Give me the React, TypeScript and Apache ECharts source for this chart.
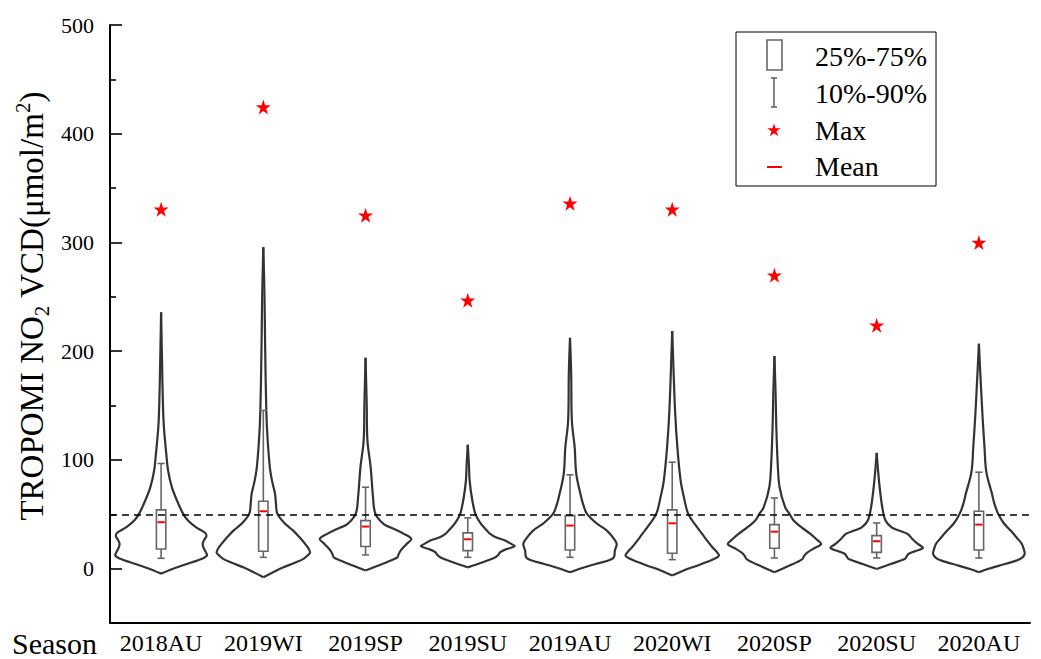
import React, { useEffect, useRef } from 'react';
import * as echarts from 'echarts';

// ---------- data ----------
const seasons = ['2018AU', '2019WI', '2019SP', '2019SU', '2019AU', '2020WI', '2020SP', '2020SU', '2020AU'];
const maxValues = [330.6, 424.5, 325, 246.8, 336, 330.6, 269.8, 223.8, 300];
const meanValues = [42.7, 52.8, 38.7, 27, 39.6, 41.7, 34, 25.2, 40.5];
const p10Values = [9.5, 10.4, 12.6, 10.4, 10.4, 8.3, 9.8, 9.8, 9.8];
const q25Values = [18, 16, 20.3, 16.6, 17.2, 14.1, 18.7, 15, 17.2];
const q75Values = [54, 62, 44.2, 32.9, 48.8, 54, 40.5, 30.4, 52.8];
const p90Values = [96.7, 145.5, 74.9, 46.7, 86.3, 97.9, 65, 42, 88.7];

// kernel density profiles: [value, relative density (% of widest violin)]
const density2018AU = [[-4.6, 0], [0.6, 30], [5.8, 66], [9, 87], [12, 98], [15, 96], [19, 91], [23, 89], [27, 93], [30, 97], [33, 94], [38, 75], [44, 58], [50.6, 47], [62.6, 34], [75, 23], [90, 15], [106, 11], [130, 6], [150, 4], [190, 2], [235.7, 0]];
const density2019WI = [[-8, 0], [-3, 22], [1.2, 43], [5, 65], [9, 86], [13, 97], [15, 100], [19, 96], [23, 89], [29, 77], [35, 64], [42, 45], [50.6, 30], [60, 27], [69, 25], [80, 19], [93, 14], [120, 9], [145, 6.4], [200, 4], [250, 2.5], [295.6, 0]];
const density2019SP = [[-1.8, 0], [4.3, 36], [7.4, 54], [10.4, 68], [13.5, 71], [16.6, 75], [19.6, 81], [22.7, 88], [27.3, 98], [32, 82], [36.5, 61], [41, 39], [50.6, 21], [65.7, 16], [93, 11], [118, 4], [150, 2.5], [194, 0]];
const density2019SU = [[1.2, 0], [5.8, 32], [10.4, 59], [13, 66], [15, 69], [17.5, 80], [20.5, 100], [23, 92], [25.8, 80], [28.8, 60], [32, 48], [35, 41], [42.6, 26], [50.6, 16], [65.7, 8.6], [81, 4], [95, 2.5], [113.9, 0]];
const density2019AU = [[-3.4, 0], [0.6, 26], [4.3, 55], [8, 85], [10.4, 94], [16.6, 96], [22.7, 100], [28, 93], [35, 79], [42, 56], [50.6, 36], [58, 29], [65.7, 24], [87, 13.5], [111.7, 10], [136, 4], [180, 2.5], [212.4, 0]];
const density2020WI = [[-6.4, 0], [-0.3, 32], [2.5, 52], [5.8, 72], [9, 90], [12, 100], [15, 96], [19.6, 86], [25, 76], [32, 64], [40, 50], [50.6, 34], [65.7, 25], [81, 18], [111.7, 11], [142.4, 6.4], [180, 3], [218.5, 0]];
const density2020SP = [[-3.4, 0], [2.8, 32], [6, 48], [8.9, 60], [12, 64], [15, 71], [19, 86], [22.7, 100], [27, 90], [32, 77], [38, 58], [44.2, 41], [50.6, 32], [56.4, 23], [74.9, 11], [96.4, 7], [130, 4], [160, 2.5], [195.5, 0]];
const density2020SU = [[-0.3, 0], [4.3, 30], [8.9, 60], [11, 64], [13.5, 68], [16, 82], [19, 99], [22.7, 88], [27, 77], [32, 66], [35, 48], [38, 32], [44.2, 19], [56.4, 12], [74.9, 6.4], [90, 3], [106.5, 0]];
const density2020AU = [[-3.4, 0], [-0.3, 19], [2.8, 44], [7.4, 80], [10, 92], [13.5, 98], [18, 96], [22.7, 92], [28, 82], [35, 68], [42, 53], [50.6, 41], [60, 33], [68.8, 28], [88.7, 16], [111.7, 12], [142.4, 7.5], [180, 3], [206.9, 0]];
const densityProfiles = [density2018AU, density2019WI, density2019SP, density2019SU, density2019AU, density2020WI, density2020SP, density2020SU, density2020AU];

const yMajorTicks = [0, 100, 200, 300, 400, 500];
const yMinorTicks = [50, 150, 250, 350, 450];
const thresholdValue = 50;
const legendLabels = ['25%-75%', '10%-90%', 'Max', 'Mean'];

// ---------- styling ----------
const SERIF = 'Liberation Serif';
const STAR = 'path://M50,0 L61.2,34.5 L97.6,34.5 L68.2,55.9 L79.4,90.5 L50,69.1 L20.6,90.5 L31.8,55.9 L2.4,34.5 L38.8,34.5 Z';
const STAR_PTS = [[50, 0], [61.2, 34.5], [97.6, 34.5], [68.2, 55.9], [79.4, 90.5], [50, 69.1], [20.6, 90.5], [31.8, 55.9], [2.4, 34.5], [38.8, 34.5]];
const OUTLINE = '#333333';
const BOXGRAY = '#666666';
const RED = '#ff0000';

const renderViolin = (params: any, api: any) => {
  const i = params.dataIndex;
  const prof = densityProfiles[i];
  const band = api.size([1, 0])[0];
  const halfMax = band * 0.457;
  const cx = api.coord([i, 0])[0];
  const right = prof.map(([v, d]) => [cx + (d / 100) * halfMax, api.coord([i, v])[1]]);
  const left = prof.map(([v, d]) => [cx - (d / 100) * halfMax, api.coord([i, v])[1]]);
  const style = { stroke: OUTLINE, lineWidth: 2.2, fill: null };
  return {
    type: 'group',
    children: [
      { type: 'polyline', shape: { points: right, smooth: 0.35 }, style },
      { type: 'polyline', shape: { points: left, smooth: 0.35 }, style },
    ],
  };
};

const renderBox = (params: any, api: any) => {
  const i = params.dataIndex;
  const band = api.size([1, 0])[0];
  const cx = api.coord([i, 0])[0];
  const bw = band * 0.092;
  const cw = band * 0.07;
  const y = (v: number) => api.coord([i, v])[1];
  const g = { stroke: BOXGRAY, lineWidth: 1.6, fill: null };
  return {
    type: 'group',
    children: [
      { type: 'line', shape: { x1: cx, y1: y(q75Values[i]), x2: cx, y2: y(p90Values[i]) }, style: g },
      { type: 'line', shape: { x1: cx - cw / 2, y1: y(p90Values[i]), x2: cx + cw / 2, y2: y(p90Values[i]) }, style: g },
      { type: 'line', shape: { x1: cx, y1: y(q25Values[i]), x2: cx, y2: y(p10Values[i]) }, style: g },
      { type: 'line', shape: { x1: cx - cw / 2, y1: y(p10Values[i]), x2: cx + cw / 2, y2: y(p10Values[i]) }, style: g },
      {
        type: 'rect',
        shape: { x: cx - bw / 2, y: y(q75Values[i]), width: bw, height: y(q25Values[i]) - y(q75Values[i]) },
        style: { stroke: BOXGRAY, lineWidth: 1.6, fill: '#ffffff' },
      },
      {
        type: 'line',
        shape: { x1: cx - bw / 2 + 1, y1: y(meanValues[i]), x2: cx + bw / 2 - 1, y2: y(meanValues[i]) },
        style: { stroke: RED, lineWidth: 2 },
      },
    ],
  };
};

const titleText = (text: string, left: number, top: number, size: number) => ({
  text,
  left,
  top,
  padding: 0,
  z: 12,
  textStyle: { fontFamily: SERIF, fontSize: size, fontWeight: 'normal', color: '#000', lineHeight: size },
});

export default function App() {
  const ref = useRef<HTMLDivElement>(null);
  useEffect(() => {
    if (!ref.current) return;
    const chart = echarts.init(ref.current, null, { renderer: 'svg' });
    const legendX = 815;
    const legendTops = [42, 79, 116, 152];
    chart.setOption({
      animation: false,
      backgroundColor: '#ffffff',
      grid: { left: 110, right: 11, top: 25, bottom: 36 },
      title: [
        titleText('Season', 12, 628, 30),
        ...legendLabels.map((t, k) => titleText(t, legendX, legendTops[k], 28)),
      ],
      xAxis: {
        type: 'category',
        data: seasons,
        boundaryGap: true,
        axisLine: { onZero: false, lineStyle: { color: '#000', width: 2 } },
        axisTick: { inside: true, length: 11, alignWithLabel: true, lineStyle: { color: '#000', width: 1.6 } },
        axisLabel: { interval: 0, color: '#000', fontSize: 24, fontFamily: SERIF, margin: 8 },
        splitLine: { show: false },
      },
      yAxis: [
        {
          type: 'value',
          min: -50,
          max: 500,
          axisLine: { show: true, lineStyle: { color: '#000', width: 2 } },
          axisTick: { show: true, inside: true, length: 12, customValues: yMajorTicks, lineStyle: { color: '#000', width: 1.6 } },
          axisLabel: { color: '#000', fontSize: 22, fontFamily: SERIF, margin: 16, customValues: yMajorTicks },
          splitLine: { show: false },
        },
        {
          type: 'value',
          min: -50,
          max: 500,
          position: 'left',
          axisLine: { show: false },
          axisTick: { show: true, inside: true, length: 6, customValues: yMinorTicks, lineStyle: { color: '#000', width: 1.6 } },
          axisLabel: { show: false },
          splitLine: { show: false },
        },
      ],
      series: [
        {
          type: 'custom',
          name: 'violin',
          renderItem: renderViolin,
          data: seasons.map((_, i) => [i, maxValues[i]]),
          encode: { x: 0, y: 1 },
          silent: true,
          z: 2,
        },
        {
          type: 'custom',
          name: '25%-75%',
          renderItem: renderBox,
          data: seasons.map((_, i) => [i, q75Values[i]]),
          encode: { x: 0, y: 1 },
          silent: true,
          z: 3,
        },
        {
          type: 'scatter',
          name: 'Max',
          data: seasons.map((_, i) => [i, maxValues[i]]),
          symbol: STAR,
          symbolSize: 15,
          itemStyle: { color: RED, opacity: 1 },
          z: 4,
          markLine: {
            silent: true,
            symbol: ['none', 'none'],
            label: { show: false },
            lineStyle: { color: '#000', type: [7, 5], width: 1.5 },
            data: [{ yAxis: thresholdValue }],
          },
        },
      ],
      graphic: [
        {
          type: 'text',
          x: 32,
          y: 306,
          rotation: Math.PI / 2,
          style: {
            text: '{n|TROPOMI NO}{sub|2}{n| VCD(μmol/m}{sup|2}{n|)}',
            fontSize: 33,
            fontFamily: SERIF,
            align: 'center',
            verticalAlign: 'middle',
            fill: '#000',
            rich: {
              n: { fontSize: 33, fontFamily: SERIF, lineHeight: 40, fill: '#000' },
              sub: { fontSize: 21, fontFamily: SERIF, lineHeight: 21, verticalAlign: 'bottom', fill: '#000' },
              sup: { fontSize: 21, fontFamily: SERIF, lineHeight: 21, verticalAlign: 'top', fill: '#000' },
            },
          },
        },
        {
          type: 'rect',
          shape: { x: 736, y: 32, width: 200, height: 154 },
          style: { stroke: '#000', lineWidth: 1, fill: '#fff' },
          z: 10,
        },
        {
          type: 'rect',
          shape: { x: 767, y: 40, width: 15, height: 30 },
          style: { stroke: BOXGRAY, lineWidth: 1.6, fill: null },
          z: 11,
        },
        { type: 'line', shape: { x1: 774, y1: 78, x2: 774, y2: 107 }, style: { stroke: BOXGRAY, lineWidth: 1.6 }, z: 11 },
        { type: 'line', shape: { x1: 771, y1: 78, x2: 777, y2: 78 }, style: { stroke: BOXGRAY, lineWidth: 1.6 }, z: 11 },
        { type: 'line', shape: { x1: 771, y1: 107, x2: 777, y2: 107 }, style: { stroke: BOXGRAY, lineWidth: 1.6 }, z: 11 },
        {
          type: 'polygon',
          shape: { points: STAR_PTS.map(([px, py]) => [767 + px * 0.14, 123.5 + py * 0.14]) },
          style: { fill: RED },
          z: 11,
        },
        { type: 'line', shape: { x1: 767, y1: 167, x2: 782, y2: 167 }, style: { stroke: RED, lineWidth: 2 }, z: 11 },
      ],
    });
    return () => chart.dispose();
  }, []);
  return <div ref={ref} style={{ position: 'fixed', left: 0, top: 0, width: 1041, height: 659 }} />;
}
